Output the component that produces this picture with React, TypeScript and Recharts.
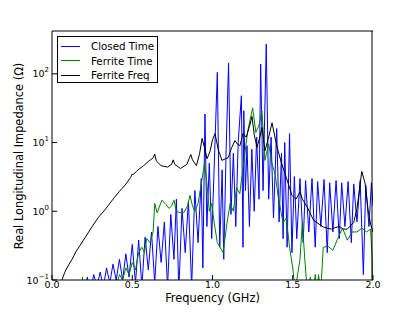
import { LineChart, Line, XAxis, YAxis } from 'recharts';

// frequency (GHz), real longitudinal impedance (Ohm)
const closedTime: [number, number][] = [
  [0.2, 0.06], [0.22, 0.11], [0.24, 0.07], [0.26, 0.12], [0.28, 0.08], [0.3, 0.13], [0.32, 0.08],
  [0.34, 0.15], [0.36, 0.09], [0.38, 0.17], [0.4, 0.1], [0.42, 0.2], [0.44, 0.1], [0.46, 0.24],
  [0.48, 0.11], [0.5, 0.33], [0.52, 0.09], [0.54, 0.38], [0.56, 0.08], [0.58, 0.42], [0.6, 0.14],
  [0.62, 0.5], [0.64, 0.09], [0.66, 0.6], [0.68, 0.18], [0.7, 0.7], [0.72, 0.08], [0.74, 0.9],
  [0.76, 0.2], [0.775, 1.5], [0.79, 0.07], [0.81, 1.1], [0.83, 0.25], [0.85, 1.4], [0.87, 0.08],
  [0.89, 2.0], [0.91, 0.35], [0.93, 3.0], [0.94, 0.15], [0.953, 26], [0.965, 0.6], [0.98, 5],
  [0.995, 0.4], [1.01, 4], [1.03, 105], [1.045, 0.3], [1.06, 4], [1.07, 0.2], [1.085, 8],
  [1.1, 144], [1.115, 0.9], [1.13, 7], [1.145, 0.6], [1.16, 10], [1.18, 48], [1.19, 0.3],
  [1.195, 29], [1.205, 2], [1.215, 9], [1.23, 0.6], [1.245, 8], [1.26, 1], [1.275, 12],
  [1.29, 1.5], [1.3, 139], [1.315, 2], [1.335, 270], [1.35, 1.5], [1.365, 12], [1.38, 0.8],
  [1.4, 16], [1.415, 0.7], [1.43, 7], [1.44, 0.4], [1.45, 10], [1.465, 0.3], [1.48, 13.5],
  [1.495, 0.25], [1.51, 3.2], [1.525, 0.4], [1.545, 3.0], [1.565, 0.35], [1.58, 2.8], [1.6, 0.5],
  [1.62, 3.0], [1.64, 0.3], [1.655, 2.7], [1.675, 0.6], [1.695, 2.9], [1.715, 0.25], [1.73, 2.6],
  [1.75, 0.5], [1.77, 2.8], [1.79, 0.4], [1.805, 2.6], [1.825, 0.6], [1.845, 2.7], [1.865, 0.35],
  [1.88, 2.5], [1.9, 0.7], [1.92, 2.8], [1.94, 0.12], [1.955, 2.4], [1.975, 0.6], [1.99, 2.6],
  [2.0, 1.2],
];

const ferriteTime: [number, number][] = [
  [0.185, 0.06], [0.19, 0.11], [0.195, 0.06], [0.4, 0.08], [0.42, 0.12], [0.44, 0.1], [0.46, 0.15],
  [0.48, 0.12], [0.5, 0.18], [0.52, 0.14], [0.54, 0.25], [0.56, 0.3], [0.575, 0.25], [0.59, 0.4],
  [0.61, 0.35], [0.63, 0.5], [0.64, 1.3], [0.655, 0.95], [0.685, 1.45], [0.71, 1.25], [0.73, 1.1],
  [0.745, 1.2], [0.76, 1.45], [0.775, 1.0], [0.8, 0.95], [0.82, 0.95], [0.845, 1.2], [0.86, 1.7],
  [0.875, 1.2], [0.89, 1.0], [0.91, 1.3], [0.93, 2.5], [0.95, 5.0], [0.965, 2.6], [0.98, 1.0],
  [0.995, 1.3], [1.01, 0.7], [1.03, 0.35], [1.047, 0.3], [1.066, 0.25], [1.09, 0.67], [1.11, 1.3],
  [1.13, 1.0], [1.15, 2.2], [1.17, 1.8], [1.19, 4.3], [1.22, 15], [1.25, 32], [1.27, 14],
  [1.29, 18], [1.308, 29], [1.327, 5.5], [1.35, 9.6], [1.37, 5.0], [1.39, 3.5], [1.41, 1.6],
  [1.44, 0.67], [1.46, 0.8], [1.48, 0.3], [1.5, 0.15], [1.515, 0.07], [1.545, 0.2], [1.56, 0.69],
  [1.575, 0.2], [1.59, 0.07], [1.61, 0.11], [1.625, 0.06], [1.64, 0.12], [1.655, 0.06], [1.66, 0.12],
  [1.675, 0.07], [1.69, 0.3], [1.72, 0.31], [1.75, 0.27], [1.78, 0.4], [1.81, 0.57], [1.84, 0.38],
  [1.87, 0.5], [1.9, 0.5], [1.93, 0.57], [1.96, 0.5], [1.985, 0.55], [1.995, 0.2], [2.0, 0.05],
];

const ferriteFreq: [number, number][] = [
  [0.062, 0.1], [0.08, 0.13], [0.1, 0.16], [0.125, 0.2], [0.15, 0.26], [0.175, 0.32], [0.205, 0.41],
  [0.25, 0.6], [0.29, 0.82], [0.33, 1.05], [0.385, 1.55], [0.42, 1.95], [0.455, 2.4], [0.49, 3.1],
  [0.5, 3.5], [0.505, 3.4], [0.53, 3.9], [0.57, 4.6], [0.6, 5.3], [0.63, 6.0], [0.64, 6.8],
  [0.65, 5.4], [0.68, 4.6], [0.72, 4.4], [0.745, 4.8], [0.755, 5.6], [0.765, 4.8], [0.8, 4.2],
  [0.84, 4.8], [0.855, 5.9], [0.865, 6.7], [0.875, 5.6], [0.9, 4.6], [0.92, 7], [0.935, 11.5],
  [0.95, 8.5], [0.966, 5.8], [0.985, 7.5], [1.0, 11], [1.016, 13.5], [1.035, 8], [1.059, 5.5],
  [1.08, 5.8], [1.097, 6.0], [1.12, 8.5], [1.14, 10.7], [1.155, 9.5], [1.171, 9.0], [1.19, 13.5],
  [1.21, 12], [1.23, 17], [1.246, 24], [1.26, 13], [1.277, 8.5], [1.295, 12], [1.308, 16.6],
  [1.327, 7.6], [1.35, 12], [1.371, 19.4], [1.4, 9], [1.43, 5], [1.46, 3.1], [1.495, 1.7],
  [1.52, 1.5], [1.545, 1.9], [1.56, 1.5], [1.59, 1.15], [1.63, 0.74], [1.69, 0.59], [1.74, 0.55],
  [1.765, 0.58], [1.79, 0.6], [1.815, 0.55], [1.84, 0.55], [1.88, 0.69], [1.9, 1.1], [1.915, 2.0],
  [1.93, 3.8], [1.95, 2.6], [1.97, 1.03], [1.985, 0.65], [2.0, 0.5],
];

const seriesNames = ['Closed Time', 'Ferrite Time', 'Ferrite Freq'];
const seriesColors = ['#0000ff', '#008000', '#000000'];

const xTicks = [0, 0.5, 1.0, 1.5, 2.0];
const yTicks = [0.1, 1, 10, 100];
const yExponents = ['\u22121', '0', '1', '2'];
const yMinorTicks = [
  0.2, 0.3, 0.4, 0.5, 0.6, 0.7, 0.8, 0.9, 2, 3, 4, 5, 6, 7, 8, 9, 20, 30, 40, 50, 60, 70, 80, 90, 200, 300, 400,
];
const yDomain = [0.1, 420];

const toRows = (pts: [number, number][]) => pts.map(([f, v]) => ({ f, v }));

const FONT = 'DejaVu Sans, sans-serif';

const LogTick = ({ x, y, payload }: any) => {
  const i = yTicks.indexOf(payload.value);
  return (
    <text x={x} y={y + 3.5} textAnchor="end" fontFamily={FONT} fontSize={9.5} fill="#000">
      <tspan>10</tspan>
      <tspan dy={-5} fontSize={7}>{yExponents[i]}</tspan>
    </text>
  );
};

const YLabel = () => (
  <text
    x={19}
    y={156}
    transform="rotate(-90 19 156)"
    textAnchor="middle"
    dominantBaseline="central"
    fontFamily={FONT}
    fontSize={11.4}
    fill="#000"
  >
    Real Longitudinal Impedance (Ω)
  </text>
);

const frame = { stroke: '#000' };

export default function App() {
  const data = [closedTime, ferriteTime, ferriteFreq].map(toRows);
  return (
    <div style={{ position: 'absolute', left: 0, top: 0, width: 415, height: 312, background: '#fff' }}>
      <LineChart width={415} height={312} margin={{ top: 31, right: 42, bottom: 31, left: 51 }}>
        <XAxis
          dataKey="f"
          type="number"
          domain={[0, 2]}
          ticks={xTicks}
          interval={0}
          allowDataOverflow
          height={1}
          tickSize={-5}
          tickMargin={6}
          tickFormatter={(v: number) => v.toFixed(1)}
          tick={{ fontSize: 9.5, fill: '#000', fontFamily: FONT }}
          axisLine={frame}
          tickLine={frame}
          label={{ value: 'Frequency (GHz)', position: 'bottom', offset: 13, fontSize: 11.4, fill: '#000', fontFamily: FONT }}
        />
        <XAxis
          xAxisId="top"
          orientation="top"
          mirror
          type="number"
          domain={[0, 2]}
          ticks={xTicks}
          interval={0}
          allowDataOverflow
          height={1}
          tickSize={5}
          tick={false}
          axisLine={frame}
          tickLine={frame}
        />
        <YAxis
          type="number"
          scale="log"
          domain={yDomain}
          ticks={yTicks}
          interval={0}
          allowDataOverflow
          width={1}
          tickSize={-5}
          tickMargin={8}
          tick={<LogTick />}
          axisLine={frame}
          tickLine={frame}
          label={<YLabel />}
        />
        <YAxis
          yAxisId="minorL"
          mirror
          type="number"
          scale="log"
          domain={yDomain}
          ticks={yMinorTicks}
          interval={0}
          allowDataOverflow
          width={1}
          tickSize={2.5}
          tick={false}
          axisLine={false}
          tickLine={frame}
        />
        <YAxis
          yAxisId="right"
          orientation="right"
          mirror
          type="number"
          scale="log"
          domain={yDomain}
          ticks={yTicks}
          interval={0}
          allowDataOverflow
          width={1}
          tickSize={5}
          tick={false}
          axisLine={frame}
          tickLine={frame}
        />
        <YAxis
          yAxisId="minorR"
          orientation="right"
          mirror
          type="number"
          scale="log"
          domain={yDomain}
          ticks={yMinorTicks}
          interval={0}
          allowDataOverflow
          width={1}
          tickSize={2.5}
          tick={false}
          axisLine={false}
          tickLine={frame}
        />
        {data.map((rows, i) => (
          <Line
            key={seriesNames[i]}
            data={rows}
            dataKey="v"
            name={seriesNames[i]}
            type="linear"
            stroke={seriesColors[i]}
            strokeWidth={1}
            dot={false}
            isAnimationActive={false}
          />
        ))}
      </LineChart>
      <div
        style={{
          position: 'absolute',
          left: 57,
          top: 36,
          width: 101,
          height: 47,
          boxSizing: 'border-box',
          border: '1px solid #000',
          background: '#fff',
          fontFamily: FONT,
          fontSize: 10.3,
          whiteSpace: 'nowrap',
          padding: '2px 0 0 3px',
        }}
      >
        {seriesNames.map((name, i) => (
          <div key={name} style={{ display: 'flex', alignItems: 'center', height: 14.5 }}>
            <span style={{ display: 'inline-block', width: 19, height: 0, borderTop: `1px solid ${seriesColors[i]}`, marginRight: 11 }} />
            <span>{name}</span>
          </div>
        ))}
      </div>
    </div>
  );
}
